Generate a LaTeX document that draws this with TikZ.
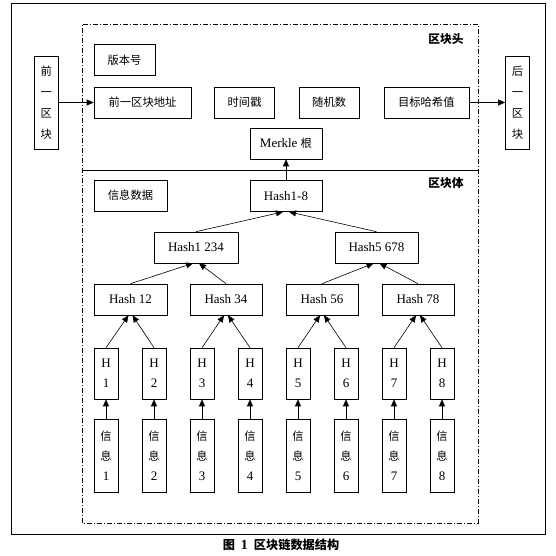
\documentclass[tikz,border=0pt]{standalone}
\usepackage{fontspec}
\setmainfont{Liberation Serif}
\newfontfamily\cjk[Scale=0.87]{Noto Sans CJK SC}
\usetikzlibrary{positioning,arrows.meta}

\tikzset{
  box/.style={draw, line width=0.6pt, inner sep=0pt, minimum height=31pt,
    font=\fontsize{13}{20}\selectfont},
  vbox/.style={draw, line width=0.6pt, inner sep=0pt, minimum width=24pt,
    align=center, font=\fontsize{13}{20}\selectfont},
  vzh/.style={vbox, font=\fontsize{13}{21}\selectfont\cjk},
  link/.style={line width=0.6pt, -{Triangle[length=7pt,width=6pt]}},
  part/.style={font=\fontsize{13.5}{16}\selectfont\cjk\bfseries},
}

\begin{document}
\begin{tikzpicture}[x=1pt, y=1pt]
\useasboundingbox (0,0) rectangle (556,556);

% frames
\draw[line width=0.8pt] (11,22) rectangle (545,553);
\draw[line width=0.6pt, dash pattern=on 5pt off 2pt on 1pt off 2pt] (82,33) rectangle (478,532);
\draw[line width=0.6pt] (82,386) -- (478,386);
\node[part] (headlbl) at (446,517) {区块头};
\node[part] (bodylbl) at (446,373) {区块体};

% block header
\node[box, minimum width=97pt] (prevaddr) at (142.5,453.5) {\cjk 前一区块地址};
\node[box, minimum width=61pt, anchor=south west] (version) at ([yshift=11pt]prevaddr.north west) {\cjk 版本号};
\node[box, minimum width=60pt, right=23pt of prevaddr] (stamp) {\cjk 时间戳};
\node[box, minimum width=60pt, right=24pt of stamp] (nonce) {\cjk 随机数};
\node[box, minimum width=85pt, right=24pt of nonce] (target) {\cjk 目标哈希值};
\node[box, minimum width=72pt] (merkle) at (286,412.5) {Merkle {\cjk 根}};

% neighbour blocks
\node[vzh, minimum height=93pt, left=35pt of prevaddr] (prev) {前\\一\\区\\块};
\node[vzh, minimum height=93pt, right=36pt of target] (next) {后\\一\\区\\块};

% block body
\node[box, minimum width=73pt] (info) at (130.5,360.5) {\cjk 信息数据};
\node[box, minimum width=72pt, below=21pt of merkle] (hash18) {Hash1-8};
\node[box, minimum width=84pt] (hash1234) at (196,308.5) {Hash1 234};
\node[box, minimum width=83pt] (hash5678) at (376.5,308.5) {Hash5 678};
\node[box, minimum width=73pt] (hash12) at (130.5,256.5) {Hash 12};
\node[box, minimum width=72pt] (hash34) at (226,256.5) {Hash 34};
\node[box, minimum width=72pt] (hash56) at (322,256.5) {Hash 56};
\node[box, minimum width=72pt] (hash78) at (418,256.5) {Hash 78};

\foreach \i [evaluate=\i as \x using 58+48*\i] in {1,...,8} {
  \node[vbox, minimum height=51pt] (H\i) at (\x,182.5) {H\\\i};
  \node[vbox, minimum height=73pt] (D\i) at (\x,100.5) {{\cjk 信}\\{\cjk 息}\\\i};
  \draw[link] (D\i) -- (H\i);
}

\foreach \a/\b/\p in {1/2/hash12, 3/4/hash34, 5/6/hash56, 7/8/hash78} {
  \draw[link] (H\a.north) -- ([xshift=-2pt]\p.south);
  \draw[link] (H\b.north) -- ([xshift=2pt]\p.south);
}
\draw[link] (hash12.north) -- ([xshift=-3pt]hash1234.south);
\draw[link] (hash34.north) -- ([xshift=3pt]hash1234.south);
\draw[link] (hash56.north) -- ([xshift=-3pt]hash5678.south);
\draw[link] (hash78.north) -- ([xshift=3pt]hash5678.south);
\draw[link] (hash1234.north) -- ([xshift=-3pt]hash18.south);
\draw[link] (hash5678.north) -- ([xshift=3pt]hash18.south);
\draw[link] (hash18) -- (merkle);
\draw[link] (prev) -- (prevaddr);
\draw[link] (target) -- (next);

\node[font=\fontsize{14}{16}\selectfont\bfseries] (caption) at (281,11)
  {{\cjk 图}\hspace{6pt}1\hspace{6pt}{\cjk 区块链数据结构}};
\end{tikzpicture}
\end{document}
